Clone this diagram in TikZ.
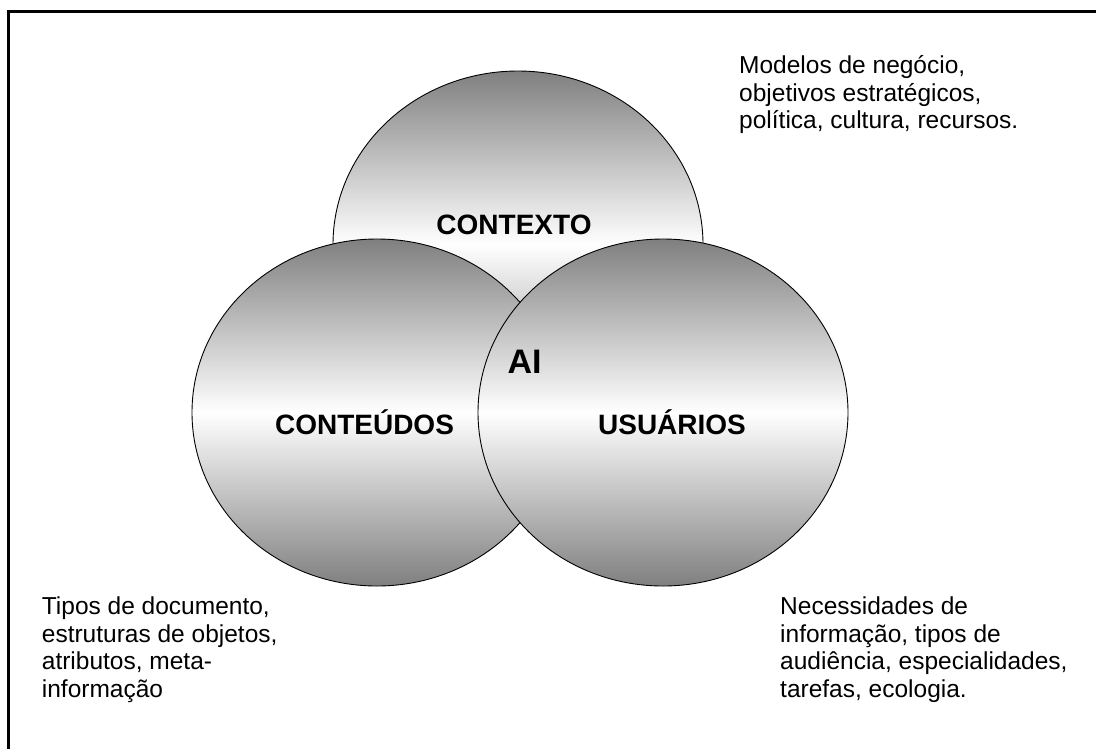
\documentclass[tikz,border=0pt]{standalone}
\usepackage{fontspec}
\setmainfont{Liberation Sans}
\usetikzlibrary{shapes.geometric}

\tikzset{
  circ/.style={ellipse, draw=black, line width=0.9pt, minimum width=370pt, minimum height=347pt,
    inner sep=0pt, top color=black!50, bottom color=black!50, middle color=white},
  lbl/.style={font=\fontsize{28}{32}\selectfont\bfseries, anchor=base, inner sep=0pt},
  note/.style={font=\fontsize{24.5}{27.5}\selectfont, align=left, anchor=base west, inner sep=0pt}
}

\begin{document}
\begin{tikzpicture}[x=1pt,y=-1pt]
\useasboundingbox (0,0) rectangle (1096,748);
% frame, cut by the page edge
\begin{scope}
\clip (0,0) rectangle (1096,748);
\draw[line width=3pt] (8.5,11.7) rectangle (1110,760);
\end{scope}

% the three sets
\node[circ] (ctx) at (518,244.5) {};
\node[circ] (cnt) at (377,412.5) {};
\node[circ] (usr) at (663,412.5) {};

\node[lbl] (ctxlbl) at (514,234) {CONTEXTO};
\node[lbl] (cntlbl) at (364.5,434) {CONTEÚDOS};
\node[lbl] (usrlbl) at (672,434) {USUÁRIOS};
\node[lbl, font=\fontsize{34}{38}\selectfont\bfseries] (ailbl) at (524.5,373.3) {AI};

% notes (anchored on their last line)
\node[note] (ctxnote) at (739,128.5) {Modelos de negócio,\\objetivos estratégicos,\\política, cultura, recursos.};
\node[note] (cntnote) at (41.7,697) {Tipos de documento,\\estruturas de objetos,\\atributos, meta-\\informação};
\node[note] (usrnote) at (780,697) {Necessidades de\\informação, tipos de\\audiência, especialidades,\\tarefas, ecologia.};
\end{tikzpicture}
\end{document}
